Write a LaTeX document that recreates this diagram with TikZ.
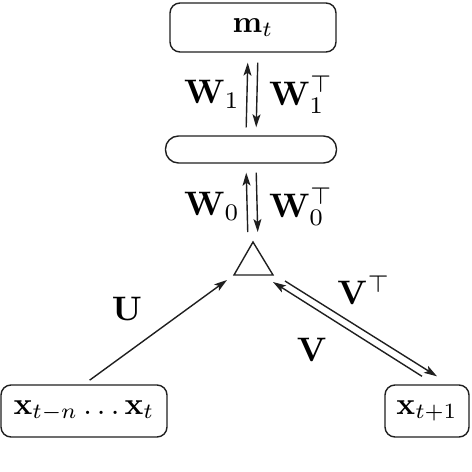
\documentclass[tikz,border=0pt]{standalone}
\usepackage{graphicx}
\usetikzlibrary{arrows.meta}
\newcommand{\nodetxt}[1]{\scalebox{3.1}{#1}}
\newcommand{\edgetxt}[1]{\scalebox{3.4}{#1}}
\begin{document}
\begin{tikzpicture}[x=1pt,y=-1pt,
  line width=1.4pt, draw={black!88},
  box/.style={draw, rounded corners=10pt, inner sep=0pt},
  lbl/.style={inner sep=0pt},
  arr/.style={-{Stealth[length=13pt,width=8pt,inset=3pt]}}]
\useasboundingbox (0,0) rectangle (472,472);
% nodes
\node[box, minimum width=166pt, minimum height=49pt] (m) at (253,27.5) {\nodetxt{$\mathbf{m}_t$}};
\node[draw, inner sep=0pt, rounded corners=13pt, minimum width=171pt, minimum height=27pt] (h) at (251,149.5) {};
\node[box, minimum width=166pt, minimum height=52pt] (xs) at (84,411) {\nodetxt{$\mathbf{x}_{t-n}\ldots\mathbf{x}_t$}};
\node[box, minimum width=84pt, minimum height=52pt] (xr) at (427,411) {\nodetxt{$\mathbf{x}_{t+1}$}};
% triangle
\coordinate (apex) at (253,242);
\coordinate (triL) at (234,275);
\coordinate (triR) at (273,275);
\draw (apex) -- (triL) -- (triR) -- cycle;
% vertical arrows
\draw[arr, shorten <=8pt, shorten >=10pt] ([xshift=-5pt]h.north) -- ([xshift=-5pt]m.south);
\draw[arr, shorten <=10pt, shorten >=8pt] ([xshift=5pt]m.south) -- ([xshift=5pt]h.north);
\draw[arr, shorten <=10pt, shorten >=9pt] ([xshift=-5pt]apex) -- ([xshift=-5pt]h.south);
\draw[arr, shorten <=9pt, shorten >=10pt] ([xshift=5pt]h.south) -- ([xshift=5pt]apex);
% diagonal arrows
\draw[arr, shorten <=7pt] (xs.north) -- ([shift={(-7,5)}]triL);
\draw[arr] ([shift={(12,6)}]triR) -- ([shift={(10,-8)}]xr.north);
\draw[arr] ([shift={(-5,-8)}]xr.north) -- ([shift={(0,7)}]triR);
% labels
\node[lbl] (w1) at (212,94) {\edgetxt{$\mathbf{W}_1$}};
\node[lbl] (w1t) at (301,95) {\edgetxt{$\mathbf{W}_1^\top$}};
\node[lbl] (w0) at (212,206) {\edgetxt{$\mathbf{W}_0$}};
\node[lbl] (w0t) at (301,207) {\edgetxt{$\mathbf{W}_0^\top$}};
\node[lbl] (u) at (127,309) {\edgetxt{$\mathbf{U}$}};
\node[lbl] (vt) at (364,290) {\edgetxt{$\mathbf{V}^\top$}};
\node[lbl] (v) at (312,350) {\edgetxt{$\mathbf{V}$}};
\end{tikzpicture}
\end{document}
